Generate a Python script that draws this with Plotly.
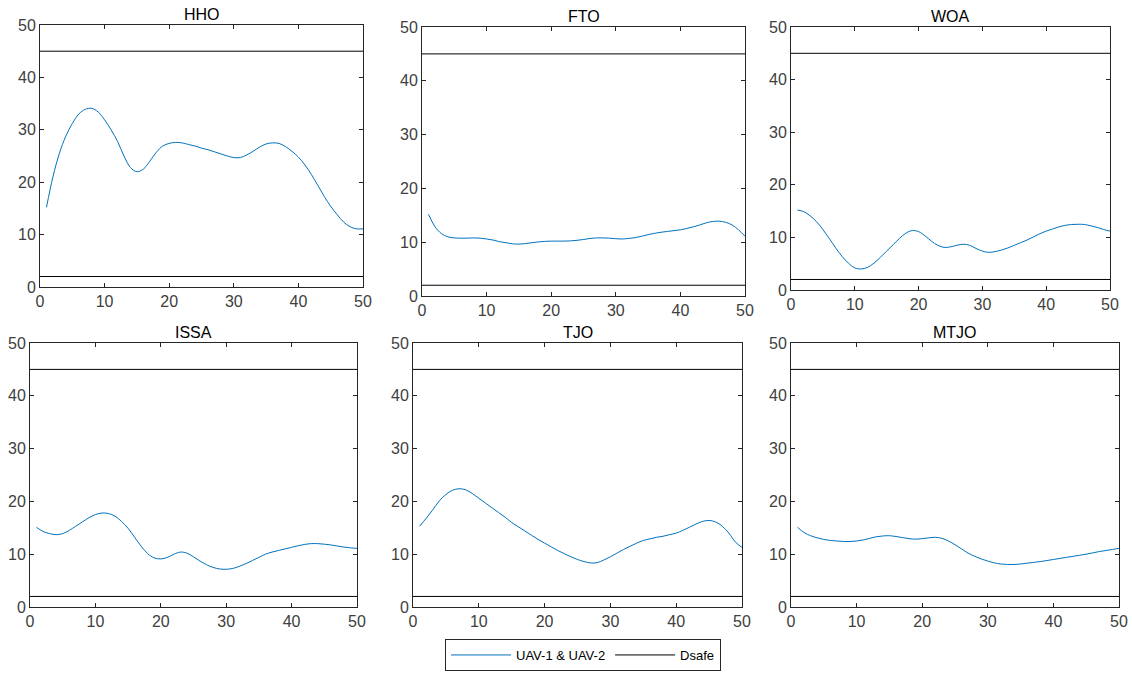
import plotly.graph_objects as go

x_iter = list(range(1, 51))
dsafe_levels = [2, 45]
titles = ["HHO", "FTO", "WOA", "ISSA", "TJO", "MTJO"]
ticks = [0, 10, 20, 30, 40, 50]

hho = [15.2, 21, 25.5, 28.8, 31.2, 33, 33.9, 34.1, 33.4, 31.9,
       30, 27.8, 25, 22.8, 22, 22.5, 24, 25.7, 26.9, 27.4,
       27.6, 27.5, 27.2, 26.9, 26.5, 26.2, 25.8, 25.4, 25, 24.7,
       24.7, 25.2, 25.9, 26.7, 27.3, 27.5, 27.4, 26.8, 25.9, 24.8,
       23.3, 21.5, 19.4, 17.3, 15.4, 13.8, 12.4, 11.5, 11.1, 11.1]
fto = [15.2, 12.9, 11.6, 11.0, 10.8, 10.75, 10.75, 10.8, 10.75, 10.6,
       10.4, 10.1, 9.9, 9.7, 9.65, 9.75, 9.9, 10.05, 10.15, 10.2,
       10.2, 10.2, 10.25, 10.35, 10.5, 10.7, 10.8, 10.8, 10.75, 10.65,
       10.6, 10.7, 10.85, 11.1, 11.4, 11.65, 11.85, 12.0, 12.15, 12.3,
       12.55, 12.85, 13.2, 13.6, 13.85, 13.9, 13.7, 13.2, 12.3, 11.1]
woa = [15.2, 14.9, 14.1, 13.0, 11.5, 9.8, 8.0, 6.4, 5.1, 4.2,
       4.0, 4.3, 5.1, 6.2, 7.4, 8.6, 9.8, 10.8, 11.3, 11.1,
       10.3, 9.3, 8.5, 8.1, 8.2, 8.5, 8.7, 8.5, 7.9, 7.4,
       7.15, 7.3, 7.6, 8.0, 8.5, 9.0, 9.5, 10.1, 10.7, 11.2,
       11.6, 12.0, 12.3, 12.45, 12.5, 12.45, 12.2, 11.9, 11.5, 11.2]
issa = [15.1, 14.3, 13.9, 13.7, 13.9, 14.5, 15.3, 16.1, 16.9, 17.5,
        17.8, 17.7, 17.2, 16.2, 14.9, 13.2, 11.5, 10.1, 9.3, 9.1,
        9.4, 10.0, 10.4, 10.2, 9.5, 8.7, 8.0, 7.5, 7.2, 7.15,
        7.3, 7.7, 8.2, 8.8, 9.4, 10.0, 10.4, 10.7, 11.0, 11.3,
        11.6, 11.85, 12.0, 12.0, 11.9, 11.75, 11.55, 11.35, 11.2, 11.1]
tjo = [15.3, 16.8, 18.4, 20.1, 21.3, 22.1, 22.4, 22.2, 21.5, 20.6,
       19.7, 18.8, 17.9, 17.0, 16.0, 15.2, 14.4, 13.6, 12.8, 12.1,
       11.4, 10.7, 10.1, 9.5, 9.0, 8.6, 8.35, 8.4, 8.9, 9.5,
       10.2, 10.9, 11.5, 12.1, 12.6, 12.9, 13.2, 13.4, 13.7, 14.0,
       14.5, 15.1, 15.7, 16.2, 16.4, 16.1, 15.3, 14.0, 12.3, 11.3]
mtjo = [15.1, 14.1, 13.5, 13.1, 12.8, 12.6, 12.5, 12.4, 12.4, 12.5,
        12.7, 13.0, 13.3, 13.45, 13.5, 13.35, 13.15, 12.95, 12.85, 12.95,
        13.1, 13.2, 13.0, 12.5, 11.8, 11.0, 10.2, 9.6, 9.1, 8.7,
        8.35, 8.15, 8.05, 8.05, 8.15, 8.3, 8.45, 8.6, 8.8, 9.0,
        9.2, 9.4, 9.6, 9.8, 10.0, 10.25, 10.5, 10.7, 10.9, 11.1]
series = [hho, fto, woa, issa, tjo, mtjo]

W, H = 1132, 673
# pixel boxes of each axes: left, right, top, bottom
boxes = [(40, 363, 25, 287), (422, 745, 27, 296), (791, 1110, 27, 290),
         (30, 357, 343, 607), (413, 742, 343, 607), (791, 1119, 343, 607)]


def px(v):
    return v / W


def py(v):
    return 1 - v / H


blue = "#0072BD"
axcol = "#262626"
fig = go.Figure()
anns = []

for i, (name, vals) in enumerate(zip(titles, series)):
    n = "" if i == 0 else str(i + 1)
    l, r, t, b = boxes[i]
    fig.add_trace(go.Scatter(x=x_iter, y=vals, mode="lines", line=dict(color=blue, width=1),
                             line_shape="spline", name="UAV-1 & UAV-2", showlegend=(i == 0),
                             xaxis="x" + n, yaxis="y" + n))
    for k, lv in enumerate(dsafe_levels):
        fig.add_trace(go.Scatter(x=[ticks[0], ticks[-1]], y=[lv, lv], mode="lines",
                                 line=dict(color="black", width=1), name="Dsafe",
                                 showlegend=(i == 0 and k == 0),
                                 xaxis="x" + n, yaxis="y" + n))
    common = dict(range=[0, 50], tickvals=ticks, ticks="inside", ticklen=4, tickcolor=axcol,
                  showline=True, linecolor=axcol, linewidth=1, mirror="ticks",
                  showgrid=False, zeroline=False, automargin=False,
                  tickfont=dict(family="Liberation Sans", size=16, color="#404040"))
    fig.layout["xaxis" + n] = dict(domain=[px(l), px(r)], anchor="y" + n, **common)
    fig.layout["yaxis" + n] = dict(domain=[py(b), py(t)], anchor="x" + n, **common)
    anns.append(dict(text=name, x=px((l + r) / 2), y=py(t), xref="paper", yref="paper",
                     xanchor="center", yanchor="bottom", yshift=0, showarrow=False,
                     font=dict(family="Liberation Sans", size=16, color="black", weight="normal")))

fig.update_layout(
    width=W, height=H, margin=dict(l=0, r=0, t=0, b=0, autoexpand=False),
    paper_bgcolor="white", plot_bgcolor="white",
    annotations=anns,
    legend=dict(orientation="h", x=px(583), y=py(655), xanchor="center", yanchor="middle",
                bordercolor=axcol, borderwidth=1, bgcolor="white", itemwidth=60,
                font=dict(family="Liberation Sans", size=13, color="black")),
)

# drop the browser's default body margin so the figure sits at the window's corner
fig.write_html("out.html", config={"displayModeBar": False},
               post_script="document.body.style.margin='0';")
